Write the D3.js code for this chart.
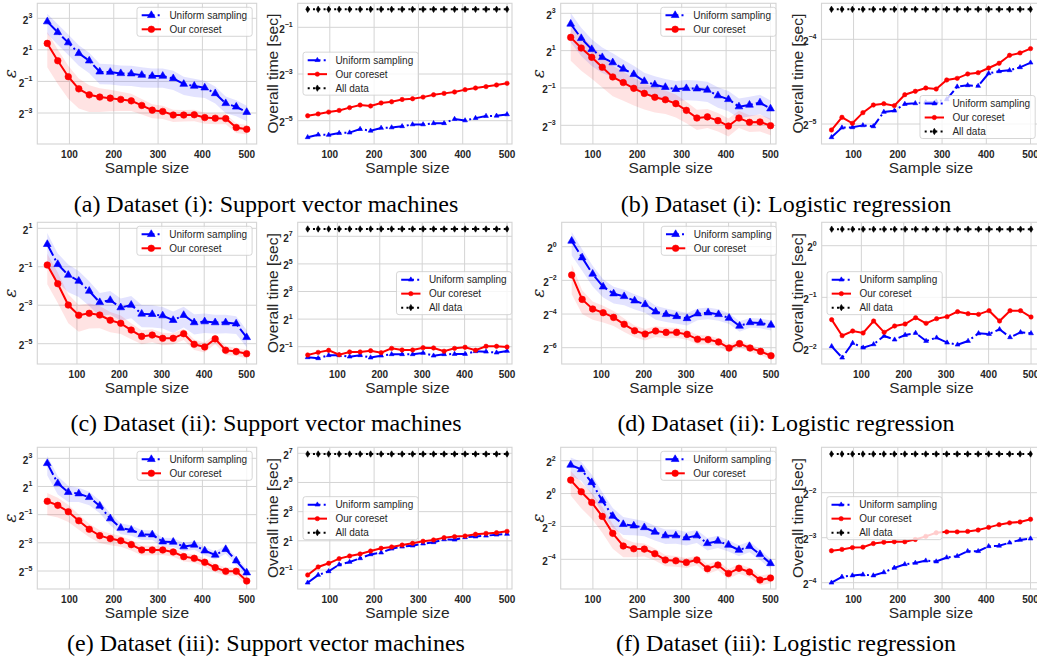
<!DOCTYPE html>
<html><head><meta charset="utf-8">
<script src="https://cdn.jsdelivr.net/npm/d3@7/dist/d3.min.js"></script>
<style>
html,body{margin:0;padding:0;background:#fff;}
svg{display:block;font-family:"Liberation Sans",Arial,sans-serif;}
</style></head><body>
<svg id="fig" width="1037" height="662"></svg>
<script>
// ---------------- DATA ----------------
// sample sizes (x values)
const sizesA = [50, 73.7, 97.4, 121.1, 144.7, 168.4, 192.1, 215.8, 239.5, 263.2, 286.8, 310.5, 334.2, 357.9, 381.6, 405.3, 428.9, 452.6, 476.3, 500];
const sizesB = [30, 54.7, 79.5, 104.2, 128.9, 153.7, 178.4, 203.2, 227.9, 252.6, 277.4, 302.1, 326.8, 351.6, 376.3, 401.1, 425.8, 450.5, 475.3, 500];
const xTicks = [100, 200, 300, 400, 500];

// epsilon values, stored as log2 exponents
const epsSvm1Uniform = [2.79, 2.11, 1.46, 0.78, 0.31, -0.39, -0.41, -0.49, -0.51, -0.60, -0.66, -0.66, -0.81, -1.17, -1.29, -1.40, -1.76, -2.39, -2.61, -2.95];
const epsSvm1Coreset = [1.41, 0.31, -0.70, -1.47, -1.85, -1.99, -2.06, -2.14, -2.23, -2.52, -2.82, -2.90, -3.13, -3.13, -3.11, -3.29, -3.33, -3.35, -3.92, -4.03];
const epsLog1Uniform = [2.43, 1.66, 1.07, 0.64, 0.36, 0.02, -0.27, -0.64, -0.82, -0.96, -1.07, -1.02, -1.04, -1.11, -1.41, -1.61, -2.00, -1.91, -1.79, -2.11];
const epsLog1Coreset = [1.71, 1.14, 0.64, 0.11, -0.41, -0.71, -1.02, -1.29, -1.50, -1.63, -1.84, -2.20, -2.61, -2.55, -2.75, -3.04, -2.61, -2.84, -2.82, -3.02];
const epsSvm2Uniform = [0.17, -0.87, -1.43, -1.74, -2.26, -2.85, -2.74, -3.12, -2.99, -3.45, -3.47, -3.54, -3.78, -3.52, -3.90, -3.85, -3.90, -3.90, -3.96, -4.67];
const epsSvm2Coreset = [-0.91, -1.88, -2.99, -3.52, -3.42, -3.51, -3.78, -3.94, -4.29, -4.62, -4.55, -4.72, -4.72, -4.48, -5.03, -5.17, -4.75, -5.34, -5.41, -5.52];
const epsLog2Uniform = [0.34, -0.65, -1.62, -2.38, -2.79, -2.95, -3.21, -3.43, -3.86, -4.02, -4.14, -4.26, -3.98, -3.92, -4.02, -4.24, -4.71, -4.50, -4.53, -4.65];
const epsLog2Coreset = [-1.68, -3.13, -3.70, -3.92, -4.20, -4.61, -4.99, -5.19, -5.01, -5.09, -5.09, -5.21, -5.50, -5.52, -5.66, -6.02, -5.76, -6.02, -6.22, -6.48];
const epsSvm3Uniform = [2.64, 1.22, 0.59, 0.49, 0.23, -0.38, -1.28, -1.95, -2.09, -2.40, -2.42, -2.92, -2.94, -3.27, -3.15, -3.56, -3.86, -3.46, -4.27, -5.12];
const epsSvm3Coreset = [-0.05, -0.34, -0.79, -1.43, -2.04, -2.49, -2.70, -2.85, -3.13, -3.51, -3.51, -3.51, -3.65, -3.98, -4.10, -4.38, -4.76, -5.02, -5.02, -5.71];
const epsLog3Uniform = [1.74, 1.47, 0.68, -0.43, -1.37, -1.87, -1.96, -2.06, -2.34, -2.56, -2.56, -2.69, -2.56, -3.03, -2.89, -3.13, -3.44, -3.21, -3.70, -4.25];
const epsLog3Coreset = [0.82, 0.11, -0.54, -1.39, -2.42, -3.19, -3.36, -3.38, -3.66, -4.04, -4.09, -4.19, -4.04, -4.57, -4.35, -4.86, -4.55, -4.77, -5.26, -5.14];

// relative standard deviation of epsilon (shaded bands)
const stdSvm1Uniform = [0.42, 0.42, 0.42, 0.42, 0.42, 0.42, 0.42, 0.42, 0.42, 0.42, 0.40, 0.40, 0.40, 0.38, 0.38, 0.36, 0.36, 0.35, 0.34, 0.33];
const stdSvm1Coreset = [0.65, 0.64, 0.62, 0.58, 0.53, 0.48, 0.44, 0.40, 0.36, 0.33, 0.30, 0.28, 0.26, 0.25, 0.25, 0.24, 0.23, 0.22, 0.21, 0.21];
const stdLog1Uniform = [0.50, 0.48, 0.46, 0.44, 0.42, 0.40, 0.38, 0.37, 0.36, 0.36, 0.36, 0.36, 0.36, 0.36, 0.36, 0.36, 0.35, 0.35, 0.35, 0.35];
const stdLog1Coreset = [0.58, 0.57, 0.55, 0.53, 0.51, 0.49, 0.47, 0.45, 0.43, 0.41, 0.40, 0.38, 0.36, 0.34, 0.33, 0.32, 0.31, 0.30, 0.30, 0.30];
const stdSvm2Uniform = [0.50, 0.48, 0.46, 0.44, 0.42, 0.40, 0.40, 0.38, 0.38, 0.38, 0.38, 0.37, 0.37, 0.36, 0.35, 0.34, 0.33, 0.32, 0.31, 0.30];
const stdSvm2Coreset = [0.50, 0.50, 0.48, 0.45, 0.42, 0.38, 0.35, 0.32, 0.28, 0.25, 0.23, 0.22, 0.20, 0.20, 0.19, 0.18, 0.17, 0.16, 0.15, 0.15];
const stdLog2Uniform = [0.45, 0.42, 0.40, 0.36, 0.33, 0.31, 0.30, 0.29, 0.28, 0.27, 0.26, 0.25, 0.24, 0.24, 0.23, 0.22, 0.21, 0.20, 0.20, 0.20];
const stdLog2Coreset = [0.55, 0.45, 0.36, 0.33, 0.30, 0.27, 0.24, 0.23, 0.22, 0.22, 0.21, 0.20, 0.19, 0.18, 0.17, 0.16, 0.15, 0.14, 0.14, 0.14];
const stdSvm3Uniform = [0.45, 0.42, 0.38, 0.34, 0.32, 0.30, 0.28, 0.26, 0.25, 0.24, 0.23, 0.22, 0.22, 0.21, 0.21, 0.20, 0.20, 0.20, 0.20, 0.20];
const stdSvm3Coreset = [0.50, 0.45, 0.40, 0.36, 0.32, 0.30, 0.28, 0.26, 0.25, 0.24, 0.23, 0.22, 0.21, 0.21, 0.20, 0.20, 0.20, 0.20, 0.20, 0.20];
const stdLog3Uniform = [0.37, 0.38, 0.40, 0.42, 0.40, 0.36, 0.33, 0.31, 0.30, 0.30, 0.29, 0.28, 0.27, 0.26, 0.25, 0.24, 0.23, 0.22, 0.21, 0.20];
const stdLog3Coreset = [0.48, 0.50, 0.50, 0.50, 0.48, 0.38, 0.30, 0.27, 0.25, 0.23, 0.22, 0.21, 0.20, 0.20, 0.20, 0.20, 0.20, 0.20, 0.20, 0.20];

// overall time [sec], stored as log2 exponents
const timeSvm1Uniform = [-5.71, -5.60, -5.61, -5.53, -5.51, -5.36, -5.43, -5.31, -5.29, -5.24, -5.16, -5.16, -5.11, -5.11, -4.93, -4.99, -4.89, -4.80, -4.79, -4.73];
const timeSvm1Coreset = [-4.79, -4.71, -4.63, -4.56, -4.44, -4.33, -4.37, -4.24, -4.19, -4.09, -4.06, -3.99, -3.89, -3.83, -3.77, -3.67, -3.60, -3.54, -3.47, -3.40];
const timeSvm1All = -0.23;
const timeLog1Uniform = [-5.157, -5.043, -5.039, -5.016, -5.028, -4.858, -4.843, -4.764, -4.756, -4.744, -4.736, -4.709, -4.559, -4.543, -4.551, -4.402, -4.378, -4.366, -4.331, -4.276];
const timeLog1Coreset = [-5.071, -4.921, -4.992, -4.866, -4.776, -4.760, -4.783, -4.654, -4.614, -4.575, -4.587, -4.480, -4.461, -4.409, -4.394, -4.339, -4.283, -4.189, -4.161, -4.110];
const timeLog1All = -3.646;
const timeSvm2Uniform = [-1.77, -1.84, -1.62, -1.62, -1.72, -1.62, -1.79, -1.65, -1.55, -1.55, -1.55, -1.45, -1.65, -1.55, -1.53, -1.53, -1.33, -1.36, -1.43, -1.31];
const timeSvm2Coreset = [-1.60, -1.41, -1.26, -1.58, -1.38, -1.38, -1.29, -1.43, -1.12, -1.24, -1.24, -1.07, -1.09, -1.33, -1.12, -1.04, -1.26, -0.97, -0.97, -1.02];
const timeSvm2All = 7.53;
const timeLog2Uniform = [-1.948, -2.168, -1.884, -1.974, -1.910, -1.748, -1.819, -1.729, -1.690, -1.845, -1.781, -1.877, -1.916, -1.845, -1.697, -1.710, -1.619, -1.774, -1.677, -1.697];
const timeLog2Coreset = [-1.432, -1.742, -1.652, -1.690, -1.458, -1.677, -1.555, -1.516, -1.394, -1.503, -1.413, -1.374, -1.277, -1.316, -1.329, -1.258, -1.458, -1.258, -1.258, -1.381];
const timeLog2All = 0.32;
const timeSvm3Uniform = [-1.87, -1.34, -1.09, -0.63, -0.45, -0.20, 0.07, 0.19, 0.46, 0.60, 0.67, 0.81, 0.90, 1.10, 1.08, 1.24, 1.29, 1.35, 1.42, 1.47];
const timeSvm3Coreset = [-1.34, -0.79, -0.54, -0.22, -0.04, 0.10, 0.30, 0.49, 0.58, 0.71, 0.83, 0.97, 1.06, 1.22, 1.29, 1.33, 1.45, 1.51, 1.56, 1.65];
const timeSvm3All = 6.95;
const timeLog3Uniform = [-4.00, -3.87, -3.84, -3.82, -3.84, -3.77, -3.67, -3.59, -3.56, -3.51, -3.53, -3.44, -3.41, -3.30, -3.30, -3.19, -3.18, -3.11, -3.05, -3.02];
const timeLog3Coreset = [-3.29, -3.26, -3.22, -3.21, -3.13, -3.10, -3.09, -3.09, -3.04, -2.97, -2.89, -2.87, -2.87, -2.86, -2.83, -2.77, -2.71, -2.67, -2.65, -2.59];
const timeLog3All = -1.14;

// y tick exponents per panel
const ticksA1 = [3, 1, -1, -3], ticksA2 = [-1, -3, -5];
const ticksB1 = [3, 1, -1, -3], ticksB2 = [-4, -5];
const ticksC1 = [1, -1, -3, -5], ticksC2 = [7, 5, 3, 1, -1];
const ticksD1 = [0, -2, -4, -6], ticksD2 = [0, -1, -2];
const ticksE1 = [3, 1, -1, -3, -5], ticksE2 = [7, 5, 3, 1, -1];
const ticksF1 = [2, 0, -2, -4], ticksF2 = [-2, -3, -4];

const seriesNames = ["Uniform sampling", "Our coreset", "All data"];
const captions = [
  "(a) Dataset (i): Support vector machines", "(b) Dataset (i): Logistic regression",
  "(c) Dataset (ii): Support vector machines", "(d) Dataset (ii): Logistic regression",
  "(e) Dataset (iii): Support vector machines", "(f) Dataset (iii): Logistic regression"
];

// ---------------- LAYOUT ----------------
const BLUE = "#0000ff", RED = "#ff0000", INK = "#262626", GRID = "#d4d4d4";
const ROWS = [[3.3, 144], [222.3, 364], [447.3, 589]];
const COLS13 = [[37.3, 256.7], [297.7, 517], [560.7, 780.5], [821.5, 1040.5]];
const COLS2 = [[37.3, 256.6], [297.7, 517], [561.7, 781], [821.7, 1041]];
const CROPS = [[0, 259], [259, 512], [518, 776], [778, 1060]];
const YLABX = [10, 272.5, 538.3, 797.5];
const XD13 = [27.5, 522.5], XD2 = [6.5, 523.5];

const panels = [
  {r:0,c:0,kind:"eps",sizes:sizesA,yt:[3,-3],yp:[18.3,113],ticks:ticksA1,u:epsSvm1Uniform,k:epsSvm1Coreset,su:stdSvm1Uniform,sk:stdSvm1Coreset,loc:"ur"},
  {r:0,c:1,kind:"time",sizes:sizesA,yt:[-1,-5],yp:[27.3,120.7],ticks:ticksA2,u:timeSvm1Uniform,k:timeSvm1Coreset,all:timeSvm1All,loc:"cl"},
  {r:0,c:2,kind:"eps",sizes:sizesA,yt:[3,-3],yp:[13.3,125.3],ticks:ticksB1,u:epsLog1Uniform,k:epsLog1Coreset,su:stdLog1Uniform,sk:stdLog1Coreset,loc:"ur"},
  {r:0,c:3,kind:"time",sizes:sizesA,yt:[-4,-5],yp:[39.3,124],ticks:ticksB2,u:timeLog1Uniform,k:timeLog1Coreset,all:timeLog1All,loc:"lr"},
  {r:1,c:0,kind:"eps",sizes:sizesB,yt:[1,-5],yp:[228.3,343.7],ticks:ticksC1,u:epsSvm2Uniform,k:epsSvm2Coreset,su:stdSvm2Uniform,sk:stdSvm2Coreset,loc:"ur"},
  {r:1,c:1,kind:"time",sizes:sizesB,yt:[7,-1],yp:[236.3,346.7],ticks:ticksC2,u:timeSvm2Uniform,k:timeSvm2Coreset,all:timeSvm2All,loc:"cr"},
  {r:1,c:2,kind:"eps",sizes:sizesB,yt:[0,-6],yp:[246.7,347.7],ticks:ticksD1,u:epsLog2Uniform,k:epsLog2Coreset,su:stdLog2Uniform,sk:stdLog2Coreset,loc:"ur"},
  {r:1,c:3,kind:"time",sizes:sizesB,yt:[0,-2],yp:[245.7,349],ticks:ticksD2,u:timeLog2Uniform,k:timeLog2Coreset,all:timeLog2All,loc:"cl"},
  {r:2,c:0,kind:"eps",sizes:sizesA,yt:[3,-5],yp:[458.3,571],ticks:ticksE1,u:epsSvm3Uniform,k:epsSvm3Coreset,su:stdSvm3Uniform,sk:stdSvm3Coreset,loc:"ur"},
  {r:2,c:1,kind:"time",sizes:sizesA,yt:[7,-1],yp:[453.3,570],ticks:ticksE2,u:timeSvm3Uniform,k:timeSvm3Coreset,all:timeSvm3All,loc:"cl"},
  {r:2,c:2,kind:"eps",sizes:sizesA,yt:[2,-4],yp:[460.7,559.3],ticks:ticksF1,u:epsLog3Uniform,k:epsLog3Coreset,su:stdLog3Uniform,sk:stdLog3Coreset,loc:"ur"},
  {r:2,c:3,kind:"time",sizes:sizesA,yt:[-2,-4],yp:[492.7,582.7],ticks:ticksF2,u:timeLog3Uniform,k:timeLog3Coreset,all:timeLog3All,loc:"cl"}
];

const svg = d3.select("#fig");
const defs = svg.append("defs");

const DASHDOT = "12.8,3.2,2,3.2";
const DOTTED = "2,3.3";

function markerPath(type, big) {
  if (type === "tri") return d3.symbol(d3.symbolTriangle, big ? 26 : 10)();
  if (type === "circ") return d3.symbol(d3.symbolCircle, big ? 34 : 15)();
  const h = 6.4, w = 3.8;
  return `M0,${-h/2}L${w/2},0L0,${h/2}L${-w/2},0Z`;
}

function drawPanel(p, idx) {
  const fy = ROWS[p.r];
  const fx = (p.r === 1 ? COLS2 : COLS13)[p.c];
  const fr = {l: fx[0], r: fx[1], t: fy[0], b: fy[1]};
  const crop = CROPS[p.c];
  const big = p.kind === "eps";
  const vr = Math.min(fr.r, crop[1]); // visible right edge of the axes

  const x = d3.scaleLinear().domain(p.r === 1 ? XD2 : XD13).range([fr.l, fr.r]);
  const y = d3.scaleLog().base(2).domain([2 ** p.yt[0], 2 ** p.yt[1]]).range(p.yp);

  const plotId = "plot" + idx, legId = "leg" + idx;
  defs.append("clipPath").attr("id", plotId).append("rect")
    .attr("x", fr.l).attr("y", fr.t).attr("width", vr - fr.l).attr("height", fr.b - fr.t);
  defs.append("clipPath").attr("id", legId).append("rect")
    .attr("x", crop[0]).attr("y", 0).attr("width", vr - crop[0] + 0.6).attr("height", 662);

  const g = svg.append("g");
  const plot = g.append("g").attr("clip-path", `url(#${plotId})`);

  // grid
  plot.selectAll(null).data(xTicks).join("line")
    .attr("x1", d => x(d)).attr("x2", d => x(d)).attr("y1", fr.t).attr("y2", fr.b)
    .attr("stroke", GRID).attr("stroke-width", 1);
  plot.selectAll(null).data(p.ticks).join("line")
    .attr("x1", fr.l).attr("x2", fr.r).attr("y1", d => y(2 ** d)).attr("y2", d => y(2 ** d))
    .attr("stroke", GRID).attr("stroke-width", 1);

  const toPts = (vals, stds) => vals.map((v, i) => ({s: p.sizes[i], v: 2 ** v, r: stds ? stds[i] : 0}));
  const uPts = toPts(p.u, p.su), kPts = toPts(p.k, p.sk);

  if (big) {
    const area = d3.area().x(d => x(d.s)).y0(d => y(d.v * (1 - d.r))).y1(d => y(d.v * (1 + d.r)));
    plot.append("path").attr("d", area(uPts)).attr("fill", BLUE).attr("fill-opacity", 0.11);
    plot.append("path").attr("d", area(kPts)).attr("fill", RED).attr("fill-opacity", 0.11);
  }
  const line = d3.line().x(d => x(d.s)).y(d => y(d.v));
  function series(pts, color, dash, mk) {
    plot.append("path").attr("d", line(pts)).attr("fill", "none").attr("stroke", color)
      .attr("stroke-width", 2).attr("stroke-dasharray", dash);
    plot.selectAll(null).data(pts).join("path")
      .attr("d", markerPath(mk, big))
      .attr("transform", d => `translate(${x(d.s)},${y(d.v)})`)
      .attr("fill", color).attr("stroke", color).attr("stroke-width", 0.6);
  }
  series(uPts, BLUE, DASHDOT, "tri");
  series(kPts, RED, null, "circ");
  if (!big) {
    const aPts = p.sizes.map(s => ({s, v: 2 ** p.all}));
    series(aPts, "#000", DOTTED, "dia");
  }

  // frame (right edge drawn where the sub-figure is trimmed)
  g.append("rect").attr("x", fr.l).attr("y", fr.t).attr("width", vr - fr.l).attr("height", fr.b - fr.t)
    .attr("fill", "none").attr("stroke", GRID).attr("stroke-width", 1.1);

  // x tick labels
  g.selectAll(null).data(xTicks).join("text")
    .attr("x", d => x(d)).attr("y", fr.b + 14.3).attr("text-anchor", "middle")
    .attr("font-size", 10).attr("font-weight", "bold").attr("fill", INK).text(d => d);
  // y tick labels
  p.ticks.forEach(t => {
    const yy = y(2 ** t);
    const tx = g.append("text").attr("x", fr.l - 5).attr("y", yy + 5.3).attr("text-anchor", "end")
      .attr("font-size", 10).attr("font-weight", "bold").attr("fill", INK);
    tx.append("tspan").text("2");
    tx.append("tspan").attr("font-size", 7).attr("dy", -5.5).text(t < 0 ? "\u2212" + (-t) : String(t));
  });

  // axis labels
  g.append("text").attr("x", (fr.l + fr.r) / 2).attr("y", fr.b + 28.6).attr("text-anchor", "middle")
    .attr("font-size", 15.5).attr("fill", INK).text("Sample size");
  const yl = g.append("text").attr("transform", `translate(${YLABX[p.c]},${(fr.t + fr.b) / 2}) rotate(-90)`)
    .attr("text-anchor", "middle").attr("dy", "0.35em").attr("fill", INK);
  if (big) yl.attr("font-size", 17).attr("font-style", "italic").attr("font-family", "DejaVu Serif, serif").text("\u03b5");
  else yl.attr("font-size", 15.5).text("Overall time [sec]");

  // legend
  const items = [
    {label: seriesNames[0], color: BLUE, dash: DASHDOT, mk: "tri"},
    {label: seriesNames[1], color: RED, dash: null, mk: "circ"}
  ];
  if (!big) items.push({label: seriesNames[2], color: "#000", dash: DOTTED, mk: "dia"});
  const n = items.length;
  const h = 8 + 14 * (n - 1) + 7;
  const tmp = g.append("text").attr("font-size", 10);
  const tw = d3.max(items, it => { tmp.text(it.label); return tmp.node().getComputedTextLength(); });
  tmp.remove();
  const w = 32.4 + tw + 5;
  let bx, by;
  if (p.loc === "ur") { bx = fr.r - 4.5 - w; by = fr.t + 4; }
  else if (p.loc === "cl") { bx = fr.l + 5.3; by = (fr.t + fr.b) / 2 - h / 2; }
  else if (p.loc === "cr") { bx = fr.r - 5.3 - w; by = (fr.t + fr.b) / 2 - h / 2; }
  else { bx = fr.r - 5.3 - w; by = fr.b - 5.5 - h; }
  const lg = g.append("g").attr("clip-path", `url(#${legId})`);
  lg.append("rect").attr("x", bx).attr("y", by).attr("width", w).attr("height", h).attr("rx", 2.5)
    .attr("fill", "#fff").attr("fill-opacity", 0.8).attr("stroke", "#cccccc").attr("stroke-width", 0.8);
  items.forEach((it, i) => {
    const cy = by + 8 + 14 * i;
    lg.append("line").attr("x1", bx + 4.7).attr("x2", bx + 24).attr("y1", cy).attr("y2", cy)
      .attr("stroke", it.color).attr("stroke-width", 2).attr("stroke-dasharray", it.dash);
    lg.append("path").attr("d", markerPath(it.mk, big)).attr("transform", `translate(${bx + 14.35},${cy})`)
      .attr("fill", it.color).attr("stroke", it.color).attr("stroke-width", 0.6);
    lg.append("text").attr("x", bx + 32.4).attr("y", cy).attr("dy", "0.35em")
      .attr("font-size", 10).attr("fill", INK).text(it.label);
  });
}

panels.forEach(drawPanel);

// captions
const capY = [211.5, 430.5, 650.5];
captions.forEach((t, i) => {
  svg.append("text").attr("x", i % 2 === 0 ? 266 : 786).attr("y", capY[Math.floor(i / 2)])
    .attr("text-anchor", "middle").attr("font-family", "Liberation Serif, Times New Roman, serif")
    .attr("font-size", 24).attr("fill", "#000").text(t);
});
</script>
</body></html>
